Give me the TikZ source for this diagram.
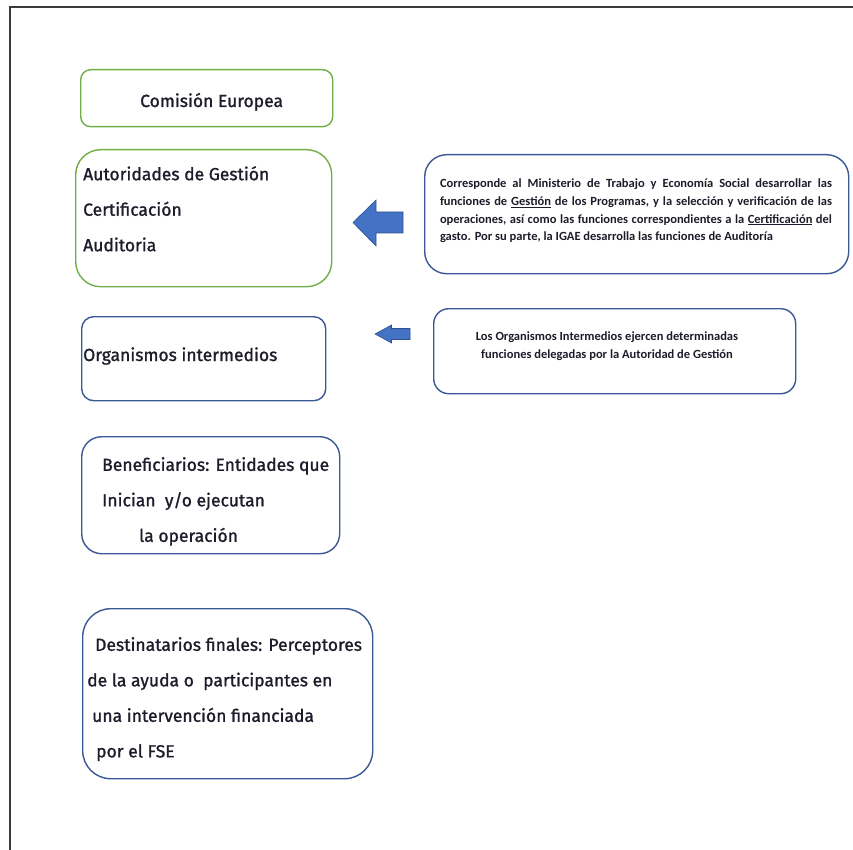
\documentclass[tikz,border=0pt]{standalone}
\usepackage{fontspec}
\newfontfamily\boxfont{Fira Sans}[FakeBold=1.2]
\newfontfamily\notefont{Carlito}
\definecolor{boxgreen}{HTML}{70AD47}
\definecolor{boxblue}{HTML}{3A5894}
\definecolor{arrowfill}{HTML}{4472C4}
\definecolor{arrowedge}{HTML}{2F528F}
\definecolor{inkdark}{HTML}{1C1C2A}
\definecolor{framegray}{HTML}{3C3C3C}
\tikzset{
  greenbox/.style={draw=boxgreen, line width=1.4pt, rounded corners=#1, anchor=north west, inner sep=0pt},
  bluebox/.style={draw=boxblue, line width=1.4pt, rounded corners=#1, anchor=north west, inner sep=0pt},
  boxtext/.style={text=inkdark, inner sep=0pt, align=left, font=\boxfont\fontsize{17.5}{35.5}\selectfont},
  notetext/.style={text=inkdark, inner sep=0pt, font=\notefont\bfseries\fontsize{12.5}{17.6}\selectfont},
  blockarrow/.style={fill=arrowfill, draw=arrowedge, line width=0.6pt, line join=miter}
}
\begin{document}
\begin{tikzpicture}[x=1pt,y=-1pt]
\useasboundingbox (0,0) rectangle (853,850);
\draw[framegray, line width=1.5pt] (10,850) |- (853,7);
\node[greenbox=10pt, minimum width=252, minimum height=57] (ce) at (80,69) {};
\node[greenbox=25pt, minimum width=256, minimum height=137] (agc) at (75,149) {};
\node[bluebox=12pt, minimum width=244, minimum height=84] (oi) at (81,316) {};
\node[bluebox=20pt, minimum width=258, minimum height=117] (ben) at (81,436) {};
\node[bluebox=28pt, minimum width=290, minimum height=170] (dest) at (82,608) {};
\node[bluebox=22pt, minimum width=424, minimum height=119] (mtes) at (424,154) {};
\node[bluebox=15pt, minimum width=362, minimum height=85] (oinote) at (433,308) {};
\node[boxtext, anchor=base west] (ce-t) at (140,107) {Comisión Europea};
\node[boxtext, anchor=north west] (agc-t) at (83,166) {Autoridades de Gestión\\Certificación\\Auditoria};
\node[boxtext, anchor=base west] (oi-t) at (83,361) {Organismos intermedios};
\node[boxtext, anchor=north west] (ben-t) at (102,457) {Beneficiarios: Entidades que\\Inician\ \ y/o ejecutan\\\hspace*{37pt}la operación};
\node[boxtext, anchor=north west] (dest-t) at (87,637) {\hspace*{8pt}Destinatarios finales: Perceptores\\de la ayuda o\ \ participantes en\\\hspace*{5pt}una intervención financiada\\\hspace*{9pt}por el FSE};
\node[notetext, text width=392pt, align=justify] (mtes-t) at (636,211) {\hyphenpenalty=10000\relax Corresponde al Ministerio de Trabajo y Economía Social desarrollar las\linebreak funciones de \underline{Gestión} de los Programas, y la selección y verificación de las\linebreak operaciones, así como las funciones correspondientes a la \underline{Certificación} del\linebreak gasto. Por su parte, la IGAE desarrolla las funciones de Auditoría};
\node[notetext, align=center] (oinote-t) at (607,346) {Los Organismos Intermedios ejercen determinadas\\funciones delegadas por la Autoridad de Gestión};
\draw[blockarrow] (403,212) -- (376,212) -- (376,200) -- (353,222.5) -- (376,246) -- (376,233) -- (403,233) -- cycle;
\draw[blockarrow] (410,328.5) -- (391.5,328.5) -- (391.5,325) -- (375,334) -- (391.5,343) -- (391.5,339.5) -- (410,339.5) -- cycle;
\end{tikzpicture}
\end{document}
